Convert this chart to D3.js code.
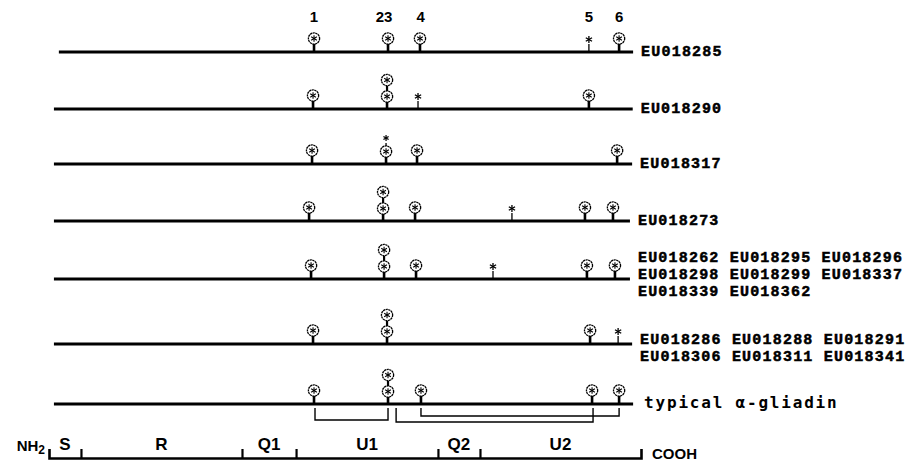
<!DOCTYPE html>
<html>
<head>
<meta charset="utf-8">
<script src="https://cdn.jsdelivr.net/npm/d3@7"></script>
<style>
  body { margin: 0; background: #fff; }
</style>
</head>
<body>
<div id="chart"></div>
<script>
// residue positions along the sequence (0 = NH2 end, 300 = COOH end)
const rowIds = ['EU018285', 'EU018290', 'EU018317', 'EU018273', 'grp5', 'grp6', 'typical']
const rowLabels = [
  ['EU018285'],
  ['EU018290'],
  ['EU018317'],
  ['EU018273'],
  ['EU018262 EU018295 EU018296', 'EU018298 EU018299 EU018337', 'EU018339 EU018362'],
  ['EU018286 EU018288 EU018291', 'EU018306 EU018311 EU018341'],
  ['typical α-gliadin']
]
const rowStart = [5, 2.5, 2.5, 2.5, 2.5, 2.5, 2.5]
const rowEnd = [296, 295.8, 295.5, 294.4, 294.4, 295.5, 296]
// c = cysteine circle, cc = two cysteines, s = star only, cs = circle + star
const rowSites = [
  [[134.3, 'c'], [171.8, 'c'], [188, 'c'], [273.6, 's'], [288.9, 'c']],
  [[133.8, 'c'], [171.3, 'cc'], [187, 's'], [273.6, 'c']],
  [[133.3, 'c'], [170.8, 'cs'], [186.5, 'c'], [287.9, 'c']],
  [[131.8, 'c'], [169.3, 'cc'], [185.5, 'c'], [234.6, 's'], [271.6, 'c'], [285.8, 'c']],
  [[132.8, 'c'], [169.8, 'cc'], [186, 'c'], [225, 's'], [272.6, 'c'], [286.8, 'c']],
  [[133.8, 'c'], [171.3, 'cc'], [274.2, 'c'], [288.4, 's']],
  [[134.3, 'c'], [171.8, 'cc'], [188.5, 'c'], [275.2, 'c'], [288.9, 'c']]
]
const siteNumbers = ['1', '23', '4', '5', '6']
const siteNumberPos = [134.3, 169.8, 188.3, 273.6, 288.9]
// disulfide brackets under the typical gliadin: from, to, level
const bonds = [[134.8, 171.8, 1], [175.9, 275.7, 2], [188.5, 288.9, 0]]
const domainNames = ['S', 'R', 'Q1', 'U1', 'Q2', 'U2']
const domainBounds = [0, 16.2, 97.8, 125.2, 197.1, 218.4, 300]

const width = 918
const height = 461

const svg = d3.select('#chart')
  .append('svg')
  .attr('width', width)
  .attr('height', height)
  .style('font-family', 'Liberation Sans, Arial, sans-serif')

const x = d3.scaleLinear().domain([0, 300]).range([49, 641])
// rows are not evenly spaced (multi-line labels take room)
const y = d3.scaleLinear()
  .domain(d3.range(rowIds.length))
  .range([52, 109, 164, 221, 279, 344, 404])

function star (g, cx, cy, r, w) {
  [90, 30, 150].forEach(function (a) {
    const dx = Math.cos(a * Math.PI / 180) * r
    const dy = Math.sin(a * Math.PI / 180) * r
    g.append('line')
      .attr('x1', cx - dx).attr('y1', cy - dy)
      .attr('x2', cx + dx).attr('y2', cy + dy)
      .style('stroke', '#000')
      .style('stroke-width', w)
  })
}

function bead (g, cx, cy) {
  g.append('circle')
    .attr('cx', cx).attr('cy', cy).attr('r', 5.6)
    .style('fill', '#fff')
    .style('stroke', '#000')
    .style('stroke-width', 1.3)
    .style('stroke-dasharray', '2.2 0.5')
  star(g, cx, cy, 3.3, 1.1)
}

function stem (g, cx, y1, y2, w) {
  g.append('line')
    .attr('x1', cx).attr('x2', cx)
    .attr('y1', y1).attr('y2', y2)
    .style('stroke', '#000')
    .style('stroke-width', w)
}

// top site numbers
svg.selectAll('text.num')
  .data(siteNumbers)
  .enter()
  .append('text')
  .attr('class', 'num')
  .attr('x', (d, i) => x(siteNumberPos[i]))
  .attr('y', 22)
  .attr('text-anchor', 'middle')
  .attr('font-size', '15px')
  .attr('font-weight', 'bold')
  .text(d => d)

// rows
rowIds.forEach(function (id, i) {
  const g = svg.append('g').attr('class', 'row')
  const base = y(i)
  g.append('line')
    .attr('x1', x(rowStart[i])).attr('x2', x(rowEnd[i]))
    .attr('y1', base).attr('y2', base)
    .style('stroke', '#000')
    .style('stroke-width', 3)

  rowSites[i].forEach(function (s) {
    const cx = x(s[0])
    const type = s[1]
    if (type === 's') {
      stem(g, cx, base, base - 8, 1.3)
      star(g, cx, base - 12.5, 3.6, 1.3)
    } else if (type === 'c') {
      stem(g, cx, base, base - 9, 2.6)
      bead(g, cx, base - 13.5)
    } else if (type === 'cc') {
      stem(g, cx, base, base - 7, 2.6)
      stem(g, cx, base - 18, base - 23, 2.2)
      bead(g, cx, base - 12.5)
      bead(g, cx, base - 29)
    } else if (type === 'cs') {
      stem(g, cx, base, base - 7, 2.6)
      stem(g, cx, base - 18, base - 21, 1.3)
      bead(g, cx, base - 12.5)
      star(g, cx, base - 26, 3, 1.2)
    }
  })

  const lines = rowLabels[i]
  const first = base + 4 - 17 * Math.floor((lines.length - 1) / 2) - (lines.length > 1 ? 4 : 0)
  const isTypical = id === 'typical'
  const t = g.selectAll('text')
    .data(lines)
    .enter()
    .append('text')
    .attr('x', x(rowEnd[i]) + (isTypical ? 11 : 8))
    .attr('y', (d, k) => first + k * 17)
    .attr('font-weight', 'bold')
    .text(d => d)
  if (isTypical) {
    t.attr('font-family', 'DejaVu Sans Mono, monospace')
      .attr('font-size', '16px')
      .attr('letter-spacing', '1.8px')
  } else {
    t.attr('font-family', 'Liberation Mono, Courier New, monospace')
      .attr('font-size', '15px')
      .attr('letter-spacing', '1.2px')
      .style('stroke', '#000')
      .style('stroke-width', 0.5)
  }
})

// disulfide brackets below the typical gliadin
const typBase = y(rowIds.length - 1)
const drop = [12, 16, 18]
svg.selectAll('path.bond')
  .data(bonds)
  .enter()
  .append('path')
  .attr('class', 'bond')
  .attr('d', d => 'M' + x(d[0]) + ',' + (typBase + 4) +
    'V' + (typBase + drop[d[2]]) + 'H' + x(d[1]) + 'V' + (typBase + 4))
  .style('fill', 'none')
  .style('stroke', '#000')
  .style('stroke-width', 1.4)

// domain bar
const barY = 458
const axis = d3.axisTop(x)
  .tickValues(domainBounds.slice(1, -1))
  .tickSizeInner(9)
  .tickSizeOuter(9)
  .tickFormat('')
const ag = svg.append('g')
  .attr('transform', 'translate(0,' + barY + ')')
  .call(axis)
ag.select('.domain').style('stroke-width', 2.6)
ag.selectAll('.tick line').style('stroke-width', 2.2)

svg.selectAll('text.dom')
  .data(domainNames)
  .enter()
  .append('text')
  .attr('class', 'dom')
  .attr('x', (d, i) => x((domainBounds[i] + domainBounds[i + 1]) / 2))
  .attr('y', 450)
  .attr('text-anchor', 'middle')
  .attr('font-size', '17px')
  .attr('font-weight', 'bold')
  .text(d => d)

const nh = svg.append('text')
  .attr('x', x(0) - 4)
  .attr('y', 451)
  .attr('text-anchor', 'end')
  .attr('font-size', '15px')
  .attr('font-weight', 'bold')
nh.append('tspan').text('NH')
nh.append('tspan').attr('font-size', '12px').attr('dy', 3).text('2')

svg.append('text')
  .attr('x', x(300) + 11)
  .attr('y', 459)
  .attr('font-size', '15px')
  .attr('font-weight', 'bold')
  .text('COOH')
</script>
</body>
</html>
